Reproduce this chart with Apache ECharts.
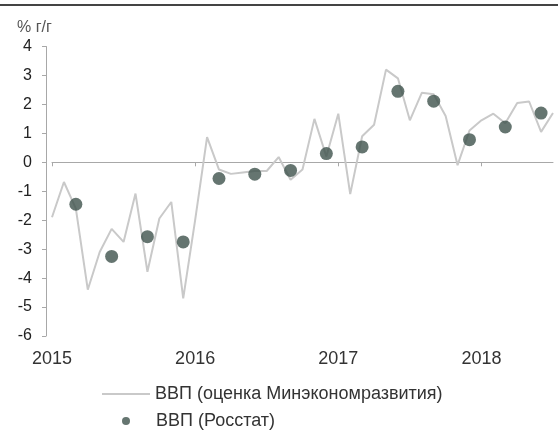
<!DOCTYPE html>
<html>
<head>
<meta charset="utf-8">
<script src="https://cdn.jsdelivr.net/npm/echarts@6/dist/echarts.min.js"></script>
<style>html,body{margin:0;padding:0;background:#fff}#c{width:558px;height:432px}</style>
</head>
<body>
<div id="c"></div>
<script>
// Monthly categories Jan 2015 – Jul 2018
const months = [];
for (let y = 2015; y <= 2018; y++) {
  for (let m = 1; m <= 12; m++) {
    if (y === 2018 && m > 7) break;
    months.push(y + '-' + String(m).padStart(2, '0'));
  }
}
// ВВП (оценка Минэкономразвития), % г/г, monthly
const mineconValues = [
  -1.9, -0.68, -1.6, -4.4, -3.1, -2.3, -2.75, -1.08, -3.78, -1.94, -1.37, -4.7,
  -2.0, 0.87, -0.25, -0.4, -0.35, -0.3, -0.3, 0.18, -0.6, -0.25, 1.5, 0.2,
  1.68, -1.1, 0.9, 1.3, 3.2, 2.9, 1.45, 2.4, 2.35, 1.6, -0.1, 1.1,
  1.45, 1.68, 1.35, 2.05, 2.1, 1.05, 1.7
];
// ВВП (Росстат), quarterly, placed at quarter-end month
const rosstatMonths = ['2015-03','2015-06','2015-09','2015-12','2016-03','2016-06','2016-09','2016-12','2017-03','2017-06','2017-09','2017-12','2018-03','2018-06'];
const rosstatValues = [-1.45, -3.25, -2.57, -2.75, -0.56, -0.41, -0.28, 0.30, 0.53, 2.45, 2.11, 0.78, 1.22, 1.70];
const yTicks = [-6, -5, -4, -3, -2, -1, 0, 1, 2, 3, 4];
const yearLabels = ['2015', '2016', '2017', '2018'];

const rosstatData = months.map(m => {
  const i = rosstatMonths.indexOf(m);
  return i >= 0 ? rosstatValues[i] : null;
});
const isYearStart = (idx) => months[idx].endsWith('-01');

const chart = echarts.init(document.getElementById('c'));
const font = 'Liberation Sans, Arial, sans-serif';
const lineName = 'ВВП (оценка Минэкономразвития)';
const dotName = 'ВВП (Росстат)';
chart.setOption({
  animation: false,
  textStyle: { fontFamily: font },
  title: {
    text: '% г/г', left: 12, top: 15,
    textStyle: { fontSize: 16, fontWeight: 'normal', color: '#555', fontFamily: font }
  },
  graphic: [{
    type: 'line', shape: { x1: 0, y1: 5, x2: 558, y2: 5 },
    style: { stroke: '#444', lineWidth: 2 }
  }],
  grid: { left: 52, right: 5, top: 46.5, bottom: 96 },
  legend: [{
    left: 102, top: 385, padding: 0,
    itemWidth: 48, itemHeight: 2, icon: 'rect',
    textStyle: { fontSize: 18, color: '#333', fontFamily: font },
    data: [lineName]
  }, {
    left: 122, top: 412, padding: 0,
    itemWidth: 50, itemHeight: 8, icon: 'circle',
    textStyle: { fontSize: 18, color: '#333', fontFamily: font },
    data: [dotName]
  }],
  xAxis: [{
    type: 'category', data: months, boundaryGap: false,
    axisLine: { onZero: true, lineStyle: { color: '#a8a8a8', width: 1 } },
    axisTick: { show: true, interval: (i) => isYearStart(i), length: 4, lineStyle: { color: '#a8a8a8' } },
    axisLabel: { show: false }, splitLine: { show: false }
  }, {
    type: 'category', data: months, boundaryGap: false, position: 'bottom',
    axisLine: { show: false, onZero: false }, axisTick: { show: false },
    axisLabel: {
      interval: (i) => isYearStart(i), margin: 14,
      fontSize: 18, color: '#333', fontFamily: font,
      formatter: (v) => yearLabels.includes(v.slice(0, 4)) ? v.slice(0, 4) : ''
    },
    splitLine: { show: false }
  }],
  yAxis: {
    type: 'value', min: yTicks[0], max: yTicks[yTicks.length - 1], interval: 1,
    offset: 6,
    axisLine: { show: true, lineStyle: { color: '#a8a8a8' } },
    axisTick: { show: true, length: 4, lineStyle: { color: '#a8a8a8' } },
    axisLabel: { fontSize: 16, color: '#222', margin: 14, fontFamily: font },
    splitLine: { show: false }
  },
  series: [{
    name: lineName, type: 'line', data: mineconValues,
    symbol: 'none', lineStyle: { color: '#c9c9c9', width: 2 },
    itemStyle: { color: '#c9c9c9' }, z: 2
  }, {
    name: dotName, type: 'scatter', data: rosstatData,
    symbolSize: 13, itemStyle: { color: '#3e524c' }, z: 3
  }]
});
</script>
</body>
</html>
